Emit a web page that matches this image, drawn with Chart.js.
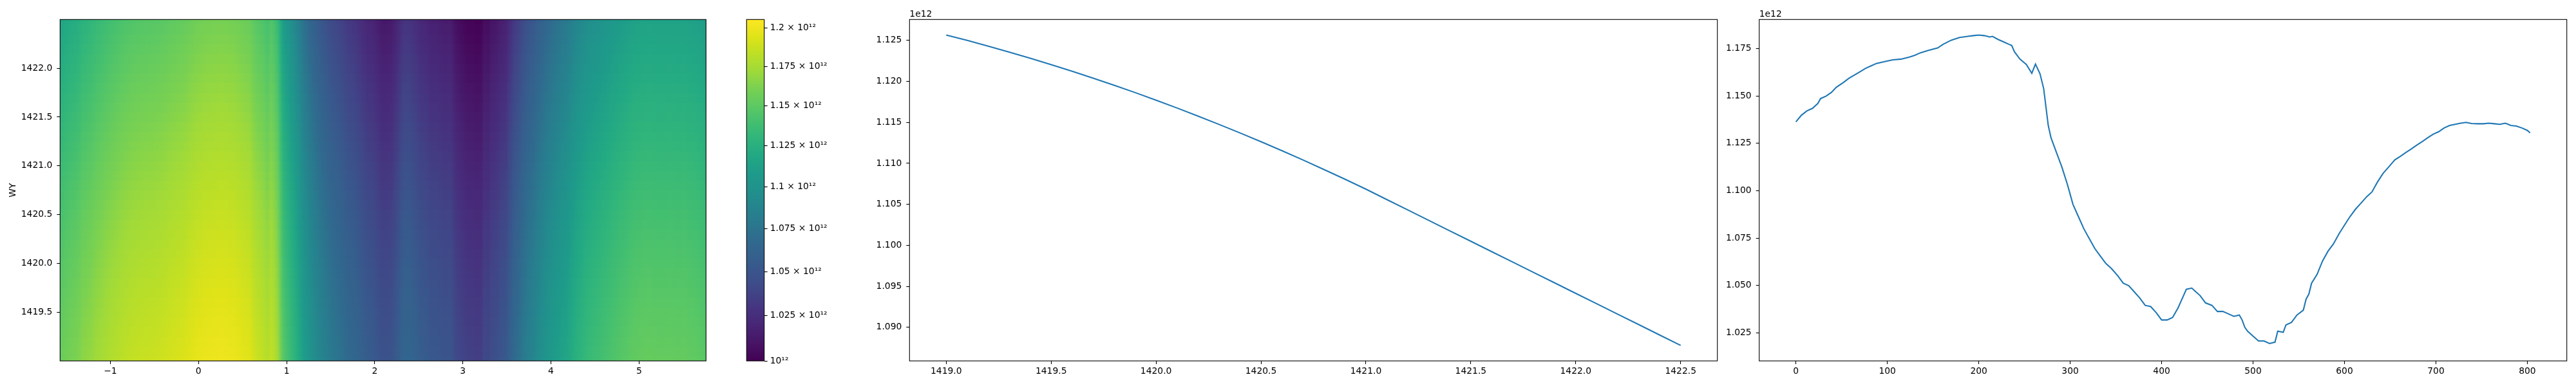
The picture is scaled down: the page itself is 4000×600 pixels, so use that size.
<!DOCTYPE html>
<html>
<head>
<meta charset="utf-8">
<script src="https://cdn.jsdelivr.net/npm/chart.js@4.4.0/dist/chart.umd.min.js"></script>
<style>
html, body { margin: 0; padding: 0; background: #fff; }
#wrap { position: relative; width: 4000px; height: 600px; }
canvas { position: absolute; top: 0; }
</style>
</head>
<body>
<div id="wrap">
  <canvas id="heat" width="1110" height="600" style="left:0px"></canvas>
  <canvas id="cbar" width="160" height="600" style="left:1140px"></canvas>
  <canvas id="mid" width="1370" height="600" style="left:1300px"></canvas>
  <canvas id="right" width="1330" height="600" style="left:2670px"></canvas>
</div>
<script>
// WY axis (rows of the map, x of the middle plot)
const wyValues = [1419.0, 1419.1, 1419.2, 1419.3, 1419.4, 1419.5, 1419.6, 1419.7, 1419.8, 1419.9,
  1420.0, 1420.1, 1420.2, 1420.3, 1420.4, 1420.5, 1420.6, 1420.7, 1420.8, 1420.9,
  1421.0, 1421.1, 1421.2, 1421.3, 1421.4, 1421.5, 1421.6, 1421.7, 1421.8, 1421.9,
  1422.0, 1422.1, 1422.2, 1422.3, 1422.4, 1422.5];
// mean signal per WY (x 1e12)
const meanSignal = [1.12565, 1.12499, 1.12429, 1.12357, 1.12282, 1.12204, 1.12123, 1.12039, 1.11952, 1.11863,
  1.11770, 1.11675, 1.11576, 1.11475, 1.11371, 1.11264, 1.11154, 1.11041, 1.10925, 1.10807,
  1.10685, 1.10558, 1.10431, 1.10304, 1.10177, 1.10050, 1.09923, 1.09796, 1.09669, 1.09542,
  1.09415, 1.09288, 1.09161, 1.09034, 1.08907, 1.08780];

// profile along the phase axis (sample index, x 1e12)
const profileIndex = [0, 6, 12, 18, 24, 27, 33, 39, 44, 52,
  58, 64, 70, 76, 82, 88, 97, 106, 115, 124,
  130, 136, 145, 155, 161, 170, 179, 188, 194, 200,
  206, 212, 215, 221, 227, 233, 236, 239, 245, 252,
  258, 262, 267, 271, 274, 276, 279, 285, 291, 297,
  303, 309, 315, 321, 327, 333, 339, 345, 352, 358,
  364, 370, 376, 382, 388, 394, 400, 406, 412, 418,
  424, 427, 433, 436, 442, 448, 455, 461, 467, 473,
  479, 485, 488, 491, 494, 500, 506, 512, 518, 524,
  527, 533, 536, 542, 548, 555, 558, 561, 564, 570,
  576, 582, 588, 594, 600, 606, 612, 618, 624, 630,
  636, 642, 648, 655, 661, 667, 673, 679, 685, 691,
  697, 703, 709, 715, 721, 727, 733, 739, 745, 752,
  758, 764, 770, 776, 782, 788, 794, 800, 803];
const profileSignal = [1.1363, 1.1398, 1.1421, 1.1434, 1.1460, 1.1486, 1.1499, 1.1519, 1.1545, 1.1571,
  1.1593, 1.1610, 1.1627, 1.1645, 1.1658, 1.1671, 1.1681, 1.1690, 1.1694, 1.1705,
  1.1714, 1.1727, 1.1740, 1.1753, 1.1772, 1.1794, 1.1808, 1.1814, 1.1818, 1.1821,
  1.1818, 1.1811, 1.1814, 1.1798, 1.1785, 1.1772, 1.1766, 1.1733, 1.1694, 1.1666,
  1.1619, 1.1668, 1.1616, 1.1538, 1.1421, 1.1344, 1.1279, 1.1201, 1.1123, 1.1032,
  1.0928, 1.0863, 1.0798, 1.0746, 1.0694, 1.0655, 1.0616, 1.0590, 1.0551, 1.0512,
  1.0499, 1.0467, 1.0434, 1.0395, 1.0389, 1.0357, 1.0318, 1.0318, 1.0331, 1.0382,
  1.0447, 1.0480, 1.0486, 1.0473, 1.0447, 1.0408, 1.0395, 1.0363, 1.0363, 1.0350,
  1.0337, 1.0344, 1.0318, 1.0279, 1.0259, 1.0233, 1.0207, 1.0207, 1.0194, 1.0201,
  1.0259, 1.0253, 1.0292, 1.0305, 1.0344, 1.0370, 1.0428, 1.0454, 1.0512, 1.0558,
  1.0629, 1.0681, 1.0720, 1.0772, 1.0818, 1.0863, 1.0902, 1.0934, 1.0967, 1.0993,
  1.1045, 1.1090, 1.1123, 1.1162, 1.1181, 1.1201, 1.1220, 1.1240, 1.1259, 1.1279,
  1.1298, 1.1311, 1.1331, 1.1344, 1.1350, 1.1356, 1.1360, 1.1354, 1.1353, 1.1353,
  1.1356, 1.1353, 1.1350, 1.1356, 1.1344, 1.1341, 1.1331, 1.1318, 1.1305];

// map extent and colour range
const phaseMin = -1.5708, phaseMax = 5.7596, nCols = 804;
const wyMin = 1419.0, wyMax = 1422.5;
const cbarMin = 1.0, cbarMax = 1.2055;

// tick labels
const phaseTicks = [-1, 0, 1, 2, 3, 4, 5];
const wyTicksHeat = [1419.5, 1420.0, 1420.5, 1421.0, 1421.5, 1422.0];
const cbarTicks = [1.0, 1.025, 1.05, 1.075, 1.1, 1.125, 1.15, 1.175, 1.2];
const wyTicksMid = [1419.0, 1419.5, 1420.0, 1420.5, 1421.0, 1421.5, 1422.0, 1422.5];
const signalTicksMid = [1.090, 1.095, 1.100, 1.105, 1.110, 1.115, 1.120, 1.125];
const indexTicks = [0, 100, 200, 300, 400, 500, 600, 700, 800];
const signalTicksRight = [1.025, 1.050, 1.075, 1.100, 1.125, 1.150, 1.175];

const viridisStops = ['#440154', '#471365', '#482475', '#46337f', '#414487', '#3b528b', '#355f8d',
  '#30698e', '#2a788e', '#25848e', '#21918c', '#1e9b8a', '#22a884', '#2fb47c', '#44bf70',
  '#5ec962', '#7ad151', '#a0da39', '#bddf26', '#dfe318', '#fde725'];

Chart.defaults.font.family = 'DejaVu Sans';
Chart.defaults.font.size = 13.89;
Chart.defaults.color = '#000';
Chart.defaults.animation = false;
Chart.defaults.plugins.legend.display = false;
Chart.defaults.plugins.tooltip.enabled = false;

function hexToRgb(h) {
  return [parseInt(h.slice(1, 3), 16), parseInt(h.slice(3, 5), 16), parseInt(h.slice(5, 7), 16)];
}
const viridisRgb = viridisStops.map(hexToRgb);

function viridis(t) {
  t = Math.min(1, Math.max(0, t));
  const p = t * (viridisRgb.length - 1);
  const i = Math.min(Math.floor(p), viridisRgb.length - 2);
  const f = p - i;
  const a = viridisRgb[i], b = viridisRgb[i + 1];
  return 'rgb(' + a.map((c, k) => Math.round(c + (b[k] - c) * f)).join(',') + ')';
}

function norm(v) {
  return (Math.log(v) - Math.log(cbarMin)) / (Math.log(cbarMax) - Math.log(cbarMin));
}

// box around the plot area, like the matplotlib spines
const frame = {
  id: 'frame',
  afterDraw(chart) {
    const a = chart.chartArea, ctx = chart.ctx;
    ctx.save();
    ctx.strokeStyle = '#000';
    ctx.lineWidth = 1.1;
    ctx.strokeRect(a.left, a.top, a.right - a.left, a.bottom - a.top);
    ctx.restore();
  }
};

// "1e12" offset label above the y axis
const offsetText = {
  id: 'offsetText',
  afterDraw(chart) {
    const a = chart.chartArea, ctx = chart.ctx;
    ctx.save();
    ctx.font = '13.89px "DejaVu Sans"';
    ctx.fillStyle = '#000';
    ctx.textAlign = 'left';
    ctx.textBaseline = 'alphabetic';
    ctx.fillText('1e12', a.left, a.top - 4.5);
    ctx.restore();
  }
};

// the 2D map: one strip per WY row, colour stops per profile sample
const heatLayer = {
  id: 'heatLayer',
  beforeDatasetsDraw(chart) {
    const { ctx, chartArea: a, scales: { x, y } } = chart;
    const avg = meanSignal.reduce((s, v) => s + v, 0) / meanSignal.length;
    const step = (phaseMax - phaseMin) / nCols;
    ctx.save();
    ctx.beginPath();
    ctx.rect(a.left, a.top, a.right - a.left, a.bottom - a.top);
    ctx.clip();
    wyValues.forEach((wy, j) => {
      const lo = j === 0 ? wyMin : (wy + wyValues[j - 1]) / 2;
      const hi = j === wyValues.length - 1 ? wyMax : (wy + wyValues[j + 1]) / 2;
      const y0 = Math.floor(y.getPixelForValue(hi));
      const y1 = Math.ceil(y.getPixelForValue(lo));
      const g = ctx.createLinearGradient(a.left, 0, a.right, 0);
      profileIndex.forEach((idx, i) => {
        const px = x.getPixelForValue(phaseMin + (idx + 0.5) * step);
        const f = Math.min(1, Math.max(0, (px - a.left) / (a.right - a.left)));
        g.addColorStop(f, viridis(norm(profileSignal[i] * meanSignal[j] / avg)));
      });
      ctx.fillStyle = g;
      ctx.fillRect(a.left, y0, a.right - a.left, y1 - y0);
    });
    ctx.restore();
  }
};

// colour bar filled pixel row by pixel row through its log scale
const cbarLayer = {
  id: 'cbarLayer',
  beforeDatasetsDraw(chart) {
    const { ctx, chartArea: a, scales: { y } } = chart;
    ctx.save();
    for (let py = Math.floor(a.top); py < Math.ceil(a.bottom); py++) {
      ctx.fillStyle = viridis(norm(y.getValueForPixel(py + 0.5)));
      ctx.fillRect(a.left, py, a.right - a.left, 1);
    }
    ctx.restore();
  }
};

function axis(ticks, fmt, size, pad, extra) {
  return Object.assign({
    type: 'linear',
    afterBuildTicks: s => { s.ticks = ticks.map(v => ({ value: v })); },
    afterFit: s => { if (s.isHorizontal()) s.height = size; else s.width = size; },
    border: { display: false },
    grid: { drawOnChartArea: false, drawTicks: true, tickLength: 5, tickWidth: 1.1, tickColor: '#000' },
    ticks: { autoSkip: false, maxRotation: 0, padding: pad, callback: v => fmt(v) }
  }, extra);
}

const fix1 = v => v.toFixed(1);
const fix3 = v => v.toFixed(3);
const minus = v => String(v).replace('-', '\u2212');
const sci = v => Math.abs(v - 1) < 1e-9 ? '10\u00b9\u00b2' : (+v.toFixed(3)) + ' \u00d7 10\u00b9\u00b2';

// heat map
new Chart(document.getElementById('heat'), {
  type: 'scatter',
  data: { datasets: [] },
  options: {
    responsive: false,
    devicePixelRatio: 1,
    layout: { padding: { left: 0, top: 30.3, right: 13.7, bottom: 0 } },
    scales: {
      x: axis(phaseTicks, minus, 39, 3, { min: phaseMin, max: phaseMax }),
      y: axis(wyTicksHeat, fix1, 93.3, 7, {
        min: wyMin, max: wyMax,
        title: { display: true, text: 'WY', padding: { top: 12, bottom: 0 } }
      })
    }
  },
  plugins: [heatLayer, frame]
});

// colour bar
new Chart(document.getElementById('cbar'), {
  type: 'scatter',
  data: { datasets: [] },
  options: {
    responsive: false,
    devicePixelRatio: 1,
    layout: { padding: { left: 19.3, top: 30.3, right: 0, bottom: 39 } },
    scales: {
      x: { type: 'linear', display: false },
      y: axis(cbarTicks, sci, 113.3, 4, { type: 'logarithmic', position: 'right', min: cbarMin, max: cbarMax })
    }
  },
  plugins: [cbarLayer, frame]
});

// mean signal against WY
new Chart(document.getElementById('mid'), {
  type: 'line',
  data: {
    datasets: [{
      data: wyValues.map((wy, i) => ({ x: wy, y: meanSignal[i] })),
      borderColor: '#1f77b4', borderWidth: 2.08, pointRadius: 0, tension: 0
    }]
  },
  options: {
    responsive: false,
    devicePixelRatio: 1,
    layout: { padding: { left: 0, top: 30.3, right: 3.3, bottom: 0 } },
    scales: {
      x: axis(wyTicksMid, fix1, 39, 3, { min: 1418.825, max: 1422.675 }),
      y: axis(signalTicksMid, fix3, 112.3, 7, { min: 1.08591, max: 1.12754 })
    }
  },
  plugins: [frame, offsetText]
});

// profile against sample index
new Chart(document.getElementById('right'), {
  type: 'line',
  data: {
    datasets: [{
      data: profileIndex.map((ix, i) => ({ x: ix, y: profileSignal[i] })),
      borderColor: '#1f77b4', borderWidth: 2.08, pointRadius: 0, tension: 0
    }]
  },
  options: {
    responsive: false,
    devicePixelRatio: 1,
    layout: { padding: { left: 0, top: 30.3, right: 14.3, bottom: 0 } },
    scales: {
      x: axis(indexTicks, v => String(v), 39, 3, { min: -40.15, max: 843.15 }),
      y: axis(signalTicksRight, fix3, 61.7, 7, { min: 1.0102, max: 1.1903 })
    }
  },
  plugins: [frame, offsetText]
});
</script>
</body>
</html>
